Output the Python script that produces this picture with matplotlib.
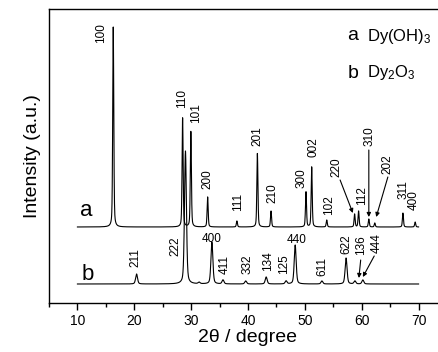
import numpy as np
import matplotlib
matplotlib.use("Agg")
import matplotlib.pyplot as plt

plt.rcParams['font.family'] = ['Liberation Sans', 'DejaVu Sans']
plt.rcParams['mathtext.default'] = 'regular'

# Dy(OH)3 pattern (curve a): peak positions (2theta), heights above baseline
a_pos = [16.3, 28.5, 29.95, 32.9, 38.05, 41.65, 44.05, 50.2, 51.2, 53.85,
         58.75, 59.45, 61.25, 62.3, 67.25, 69.4]
a_height = [200, 109, 96, 30, 6, 74, 16, 35, 60, 7, 13, 16, 8, 4, 14, 5]
a_hkl = ['100', '110', '101', '200', '111', '201', '210', '300', '002', '102',
         '220', '112', '310', '202', '311', '400']
a_base = 76

# Dy2O3 pattern (curve b)
b_pos = [20.4, 29.0, 31.4, 33.65, 35.6, 39.6, 43.2, 46.7, 48.3, 53.0,
         57.25, 58.8, 60.2]
b_height = [10, 133, 1.5, 42, 4, 3, 7, 3, 39, 3, 26, 3, 4]
b_hkl = ['211', '222', '', '400', '411', '332', '134', '125', '440', '611',
         '622', '136', '444']
b_base = 19

two_theta = np.arange(10, 70.01, 0.02)


def profile(x, pos, height, fwhm):
    y = np.zeros_like(x)
    for p, h in zip(pos, height):
        g = np.exp(-4 * np.log(2) * ((x - p) / fwhm) ** 2)
        l = 1 / (1 + 4 * ((x - p) / fwhm) ** 2)
        y += h * (0.6 * g + 0.4 * l)
    return y


curve_a = a_base + profile(two_theta, a_pos, a_height, 0.22)
curve_b = b_base + profile(two_theta, b_pos, b_height, 0.4)

fig = plt.figure(figsize=(4.39, 3.52), dpi=100)
ax = fig.add_axes([49 / 439, 49 / 352, 398 / 439, 294 / 352])

ax.plot(two_theta, curve_a, color='black', lw=0.8)
ax.plot(two_theta, curve_b, color='black', lw=0.8)

ax.set_xlim(5, 75)
ax.set_ylim(0, 294)
ax.set_xticks([10, 20, 30, 40, 50, 60, 70])
ax.set_xticks(np.arange(5, 75, 10), minor=True)
ax.set_yticks([])
ax.tick_params(axis='x', direction='out', length=5, width=1, labelsize=10, pad=3)
ax.tick_params(axis='x', which='minor', direction='out', length=3, width=1)
for s in ax.spines.values():
    s.set_linewidth(1.0)
ax.spines['right'].set_visible(False)

ax.set_xlabel('2\u03b8 / degree', fontsize=14, labelpad=1)
ax.set_ylabel('Intensity (a.u.)', fontsize=14, labelpad=6)

# hkl labels for curve a
a_label_xy = [(14.22, 270), (28.33, 204), (30.79, 190), (32.9, 124), (38.17, 101),
              (41.68, 167), (44.33, 110), (49.42, 125), (51.53, 156), (54.25, 98),
              (55.57, 136), (60.14, 107), (61.37, 167), (64.54, 139), (67.3, 113),
              (69.1, 103)]
for txt, (x, y) in zip(a_hkl, a_label_xy):
    ax.text(x, y, txt, rotation=90, ha='center', va='center', fontsize=8.5)

b_label_xy = [(20.25, 45), (27.28, 57), None, (33.69, 64), (35.89, 39), (39.93, 39),
              (43.44, 42), (46.26, 39), (48.54, 63), (53.11, 36), (57.33, 59),
              (59.97, 58), (62.6, 60)]
for txt, xy in zip(b_hkl, b_label_xy):
    if xy is None:
        continue
    rot = 0 if txt in ('400', '440') else 90
    ax.text(xy[0], xy[1], txt, rotation=rot, ha='center', va='center', fontsize=8.5)

# arrows pointing to small peaks
arrows = [((56.2, 123), (58.44, 90)), ((61.25, 153), (61.25, 86)),
          ((64.6, 126), (62.55, 86)), ((59.82, 43), (59.5, 25)),
          ((62.2, 47), (60.2, 26))]
for start, end in arrows:
    ax.annotate('', xy=end, xytext=start,
                arrowprops=dict(arrowstyle='-|>', color='black', lw=0.8,
                                mutation_scale=6, shrinkA=0, shrinkB=0))

# curve labels
ax.text(11.6, 92, 'a', fontsize=16, ha='center', va='center')
ax.text(11.8, 29, 'b', fontsize=16, ha='center', va='center')

# legend text
ax.text(57.5, 267, 'a', fontsize=14, ha='left', va='center')
ax.text(61.0, 267, 'Dy(OH)$_3$', fontsize=12, ha='left', va='center')
ax.text(57.5, 230, 'b', fontsize=14, ha='left', va='center')
ax.text(61.0, 230, 'Dy$_2$O$_3$', fontsize=12, ha='left', va='center')

fig.savefig('out.png', dpi=100)
